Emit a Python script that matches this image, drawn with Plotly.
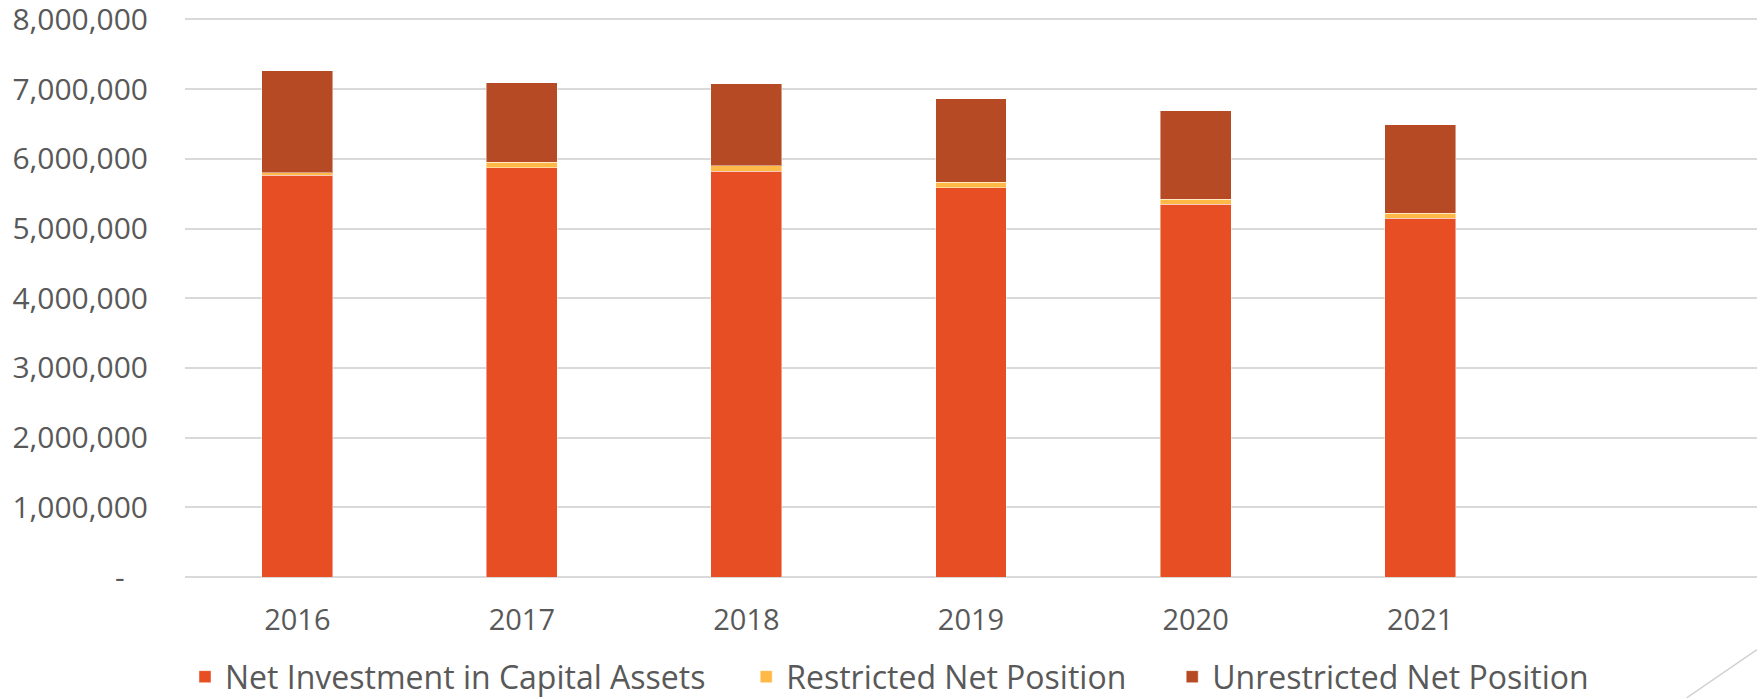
import plotly.graph_objects as go

years = [2016, 2017, 2018, 2019, 2020, 2021]
year_labels = ["2016", "2017", "2018", "2019", "2020", "2021"]
net_investment = [5763000, 5871000, 5824000, 5586000, 5346000, 5149000]
restricted = [35000, 78000, 76000, 77000, 76000, 72000]
unrestricted = [1462000, 1141000, 1180000, 1200000, 1264000, 1269000]

y_tickvals = [0, 1000000, 2000000, 3000000, 4000000, 5000000, 6000000, 7000000, 8000000]
y_ticktext = ["-\u00a0\u00a0\u00a0", "1,000,000", "2,000,000", "3,000,000", "4,000,000",
              "5,000,000", "6,000,000", "7,000,000", "8,000,000"]

FONT = "Open Sans"
TXT = "#595959"
bar_w = 0.316
edge = dict(color="rgba(255,255,255,0.45)", width=1)

fig = go.Figure()
fig.add_trace(go.Bar(x=years, y=net_investment, name="Net Investment in Capital Assets",
                     marker=dict(color="#E84E23", line=edge), width=bar_w, legend="legend"))
fig.add_trace(go.Bar(x=years, y=restricted, name="Restricted Net Position",
                     marker=dict(color="#FFB947", line=edge), width=bar_w, legend="legend2"))
fig.add_trace(go.Bar(x=years, y=unrestricted, name="Unrestricted Net Position",
                     marker=dict(color="#B54A25", line=edge), width=bar_w, legend="legend3"))

leg_common = dict(orientation="h", xanchor="left", y=-0.1786, yanchor="middle",
                  font=dict(family=FONT, size=32, color=TXT),
                  bgcolor="rgba(0,0,0,0)")

fig.update_layout(
    barmode="stack",
    width=1757, height=698,
    margin=dict(l=185, r=0, t=18, b=121, autoexpand=False),
    paper_bgcolor="white", plot_bgcolor="white",
    font=dict(family=FONT, size=29, color=TXT),
    showlegend=True,
    legend=dict(x=0.0, **leg_common),
    legend2=dict(x=0.357, **leg_common),
    legend3=dict(x=0.628, **leg_common),
    xaxis=dict(range=[2015.5, 2022.5], tickvals=years, ticktext=year_labels,
               showgrid=False, zeroline=False, showline=False, ticks="",
               automargin=False, ticklabeloverflow="allow",
               ticklabelstandoff=23, tickfont=dict(family=FONT, size=29, color=TXT)),
    yaxis=dict(range=[0, 8020000], tickvals=y_tickvals, ticktext=y_ticktext,
               showgrid=True, gridcolor="#D9D9D9", gridwidth=1.5,
               zeroline=True, zerolinecolor="#D9D9D9", zerolinewidth=1.5,
               showline=False, ticks="", ticklabelstandoff=36, automargin=False,
               ticklabeloverflow="allow",
               tickfont=dict(family=FONT, size=30, color=TXT)),
    shapes=[dict(type="line", xref="paper", yref="paper",
                 x0=0.9553, y0=-0.216, x1=1.0, y1=-0.130,
                 line=dict(color="#D0D0D0", width=1.5))],
)

fig.write_html("out.html",
               config={"displayModeBar": False},
               post_script="document.body.style.margin='0';document.body.style.padding='0';"
                           "document.body.style.overflow='hidden';")
